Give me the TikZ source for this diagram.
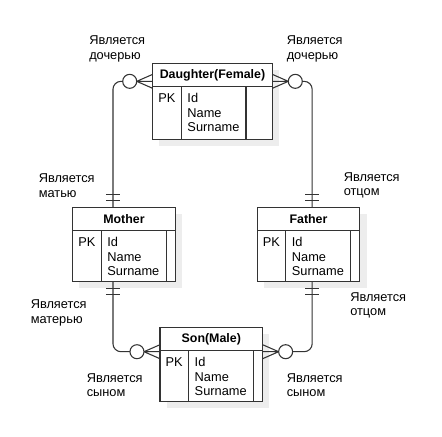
\documentclass[tikz,border=0pt]{standalone}
\usepackage{fontspec}
\setmainfont{Liberation Sans}
\usetikzlibrary{calc,shadows}

\definecolor{ink}{HTML}{333333}
\definecolor{shade}{HTML}{EDEDED}

\tikzset{
	entity/.style={draw=ink, fill=white, line width=0.8pt, outer sep=0pt, inner sep=0pt,
		drop shadow={shadow xshift=5pt, shadow yshift=-5pt, fill=shade, opacity=1}},
	rule/.style={draw=ink, line width=0.8pt},
	conn/.style={draw=ink, line width=0.8pt},
	txt/.style={font=\fontsize{9.6}{10.9}\selectfont, text=black, inner sep=0pt},
	title/.style={txt, font=\fontsize{9.3}{10.9}\selectfont\bfseries},
	attr/.style={txt, align=left, anchor=north west, inner xsep=4.5pt, inner ysep=5pt},
	rel/.style={txt, align=left, anchor=west},
	zeromany/.pic={
		\draw[conn] (0,-7) -- (-16,0) -- (0,7) (0,0) -- (-16,0);
		\draw[conn, fill=white] (-23,0) circle[radius=5.25pt];
	},
	mandone/.pic={
		\draw[conn] (-7,-7) -- (7,-7) (-7,-13) -- (7,-13);
	}
}

\begin{document}
\begin{tikzpicture}[x=0.75pt, y=-0.75pt]
	\useasboundingbox (0,0) rectangle (442,436);

	% tables
	\node[entity, minimum width=89.7pt, minimum height=56.8pt] (daughter) at (212.5,101.2) {};
	\node[entity, minimum width=77pt, minimum height=55.5pt] (mother) at (124,244.7) {};
	\node[entity, minimum width=77pt, minimum height=55.5pt] (father) at (308.5,244.7) {};
	\node[entity, minimum width=77pt, minimum height=55.5pt] (son) at (211.3,364.7) {};

	\foreach \e/\r/\t in {daughter/26.3/Daughter(Female), mother/8.7/Mother, father/9.3/Father, son/8.7/Son(Male)}{
		\draw[rule] ($(\e.north west)+(0,23)$) -- ($(\e.north east)+(0,23)$);
		\draw[rule] ($(\e.north west)+(28.5,23)$) -- ($(\e.south west)+(28.5,0)$);
		\draw[rule] ($(\e.north east)+(-\r,23)$) -- ($(\e.south east)+(-\r,0)$);
		\node[title] (\e-title) at ($(\e.north)+(0,11.5)$) {\t};
		\node[attr, anchor=north, inner xsep=0pt] (\e-pk) at ($(\e.north west)+(14.25,23)$) {PK};
		\node[attr] (\e-attr) at ($(\e.north west)+(28.5,23)$) {Id\\Name\\Surname};
	}

	% links
	\coordinate (dl) at ($(daughter.north west)+(0,18)$);
	\coordinate (dr) at ($(daughter.north east)+(0,18)$);
	\coordinate (sl) at ($(son.north west)+(0,24)$);
	\coordinate (sr) at ($(son.north east)+(0,24)$);
	\coordinate (mt) at ($(mother.north west)+(40.3,0)$);
	\coordinate (mb) at ($(mother.south west)+(40.3,0)$);
	\coordinate (ft) at ($(father.north west)+(55,0)$);
	\coordinate (fb) at ($(father.south west)+(55,0)$);

	\draw[conn, rounded corners=6pt] (mt) |- ($(dl)+(-30,0)$);
	\draw[conn, rounded corners=6pt] (ft) |- ($(dr)+(30,0)$);
	\draw[conn, rounded corners=6pt] (mb) |- ($(sl)+(-30,0)$);
	\draw[conn, rounded corners=6pt] (fb) |- ($(sr)+(30,0)$);

	\pic at (dl) {zeromany};
	\pic[xscale=-1] at (dr) {zeromany};
	\pic at (sl) {zeromany};
	\pic[xscale=-1] at (sr) {zeromany};
	\pic at (mt) {mandone};
	\pic[yscale=-1] at (mb) {mandone};
	\pic at (ft) {mandone};
	\pic[yscale=-1] at (fb) {mandone};

	% labels
	\node[rel] (lbl-dl) at (89,49) {Является\\дочерью};
	\node[rel] (lbl-dr) at (286.5,49) {Является\\дочерью};
	\node[rel] (lbl-m) at (38.5,185.5) {Является\\матью};
	\node[rel] (lbl-f) at (343.5,185.5) {Является\\отцом};
	\node[rel] (lbl-mb) at (30.5,313) {Является\\матерью};
	\node[rel] (lbl-fb) at (350,305.5) {Является\\отцом};
	\node[rel] (lbl-sl) at (86.5,385) {Является\\сыном};
	\node[rel] (lbl-sr) at (286.5,385) {Является\\сыном};
\end{tikzpicture}
\end{document}
